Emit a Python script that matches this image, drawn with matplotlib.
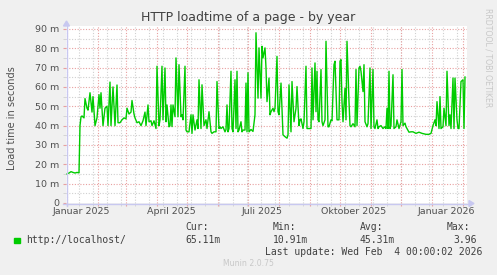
import numpy as np
import matplotlib
matplotlib.use("Agg")
import matplotlib.pyplot as plt
from matplotlib.patches import Rectangle, Polygon

# ---------------- data (day offset from 2025-01-01, load time in ms) -------------
x_px = [67, 69, 71, 73, 75, 77, 79, 80, 81, 82, 84, 85, 87, 88, 90, 92, 93, 95, 97, 99,
        100, 101, 103, 105, 107, 108, 110, 111, 113, 115, 117, 118, 120, 122, 124, 126,
        127, 129, 131, 132, 134, 135, 137, 139, 141, 143, 145,
        146, 148, 149, 151, 152, 154, 156, 157, 159, 160, 162, 163, 165, 166, 167, 169,
        170, 171, 172, 173, 175, 176, 178, 179, 181, 182, 183, 185, 186, 187, 189, 191,
        192, 193, 195, 197, 198, 199, 201, 202, 204, 206, 207, 209, 211, 212, 214, 216,
        217, 219, 220, 221, 223, 225,
        226, 227, 228, 229, 231, 232, 233, 235, 236, 237, 238, 239, 241, 242, 243, 245,
        246, 247, 248, 249, 251, 253, 255, 256, 258, 259, 261, 262, 263, 265, 266, 267,
        269, 270, 271, 273, 274, 275, 277, 278, 279, 281, 282, 283, 285, 287, 288, 289,
        291, 292, 294, 296, 297, 299, 300, 301, 303, 304,
        306, 307, 309, 311, 312, 313, 315, 316, 317, 318, 319, 321, 322, 323, 325, 326,
        328, 329, 331, 332, 334, 335, 337, 339, 340, 341, 342, 343, 345, 346, 347, 349,
        350, 351, 353, 355, 356, 357, 359, 360, 361, 363, 364, 365, 367, 368, 370, 371,
        373, 374, 375, 377, 378, 379, 381, 383, 385,
        386, 387, 388, 389, 390, 391, 393, 394, 396, 397, 399, 401, 402, 403, 405, 406,
        407, 409, 411, 413, 416, 419, 422, 426, 429, 431, 433, 435, 436, 437, 439, 440,
        441, 443, 444, 446, 447, 449, 450, 451, 453, 454, 455, 457, 458, 459, 461, 463,
        464, 465]
days = [p - 67 for p in x_px]

load_ms = [15.0, 15.5, 16.2, 15.8, 15.5, 15.8, 15.6, 40.0, 44.5, 45.0, 44.0, 54.0, 49.0, 48.0,
           57.0, 47.0, 55.0, 40.0, 44.0, 56.0, 49.0, 57.0, 40.0, 49.0, 50.0, 40.0, 62.5, 40.0,
           60.0, 40.0, 61.0, 41.5, 41.5, 43.0, 44.0, 43.5, 49.0, 46.0, 47.0, 53.0, 46.0, 44.0,
           41.5, 42.0, 40.0, 42.5, 47.0,
           40.0, 50.7, 42.0, 42.5, 40.0, 42.5, 38.5, 70.7, 40.0, 43.0, 70.7, 43.0, 69.8, 42.0,
           50.7, 39.4, 40.0, 50.7, 39.5, 50.7, 44.6, 75.0, 44.6, 71.5, 44.6, 45.6, 43.0, 70.7,
           37.7, 36.8, 36.8, 45.6, 36.0, 45.6, 37.7, 43.0, 38.5, 63.7, 38.5, 61.1, 40.0, 43.0,
           38.5, 47.2, 36.8, 36.0, 36.8, 36.8, 62.8, 38.5, 39.4, 38.5, 39.4, 36.8,
           38.0, 50.7, 36.8, 38.5, 68.1, 38.5, 36.8, 63.7, 38.5, 68.1, 36.8, 37.7, 42.0, 36.8,
           37.7, 37.7, 62.0, 36.8, 67.3, 36.8, 38.0, 37.0, 45.6, 88.0, 54.2, 80.2, 54.2, 81.0,
           75.0, 80.2, 69.8, 52.4, 64.6, 45.6, 47.2, 49.0, 47.2, 49.0, 75.8, 47.2, 45.6, 62.0,
           49.0, 35.2, 34.3, 33.5, 35.2, 61.1, 36.8, 62.8, 42.0, 49.0, 60.2, 40.0, 43.0, 43.5,
           38.5, 42.0,
           70.7, 38.5, 38.5, 38.5, 69.8, 43.0, 72.4, 47.2, 68.1, 43.0, 42.0, 69.0, 42.0, 40.0,
           43.0, 83.6, 39.4, 39.4, 43.0, 42.5, 71.5, 73.3, 43.0, 43.0, 73.3, 74.1, 52.4, 42.0,
           59.3, 43.0, 83.6, 52.4, 40.0, 39.4, 41.0, 39.4, 69.0, 40.0, 69.8, 70.7, 68.1, 57.6,
           71.5, 42.0, 39.4, 41.0, 69.8, 38.5, 69.0, 39.4, 38.5, 43.0, 38.5, 39.4, 40.0, 38.5,
           39.4,
           38.5, 49.0, 38.5, 68.1, 38.5, 40.0, 66.3, 38.5, 39.4, 43.0, 38.5, 42.0, 69.0, 40.0,
           41.3, 39.4, 38.5, 36.6, 36.8, 36.8, 36.0, 36.6, 36.0, 35.5, 35.5, 36.0, 40.0, 43.0,
           40.0, 52.4, 38.5, 55.0, 38.5, 39.4, 49.0, 40.0, 68.1, 40.0, 45.6, 38.5, 64.6, 38.5,
           64.6, 43.0, 38.5, 38.5, 62.8, 63.7, 38.5, 65.11]

y_ticks = [0, 10, 20, 30, 40, 50, 60, 70, 80, 90]
y_tick_labels = ["0", "10 m", "20 m", "30 m", "40 m", "50 m", "60 m", "70 m", "80 m", "90 m"]
x_labels = ["Januar 2025", "April 2025", "Juli 2025", "Oktober 2025", "Januar 2026"]
x_label_dates = ["2025-01-15", "2025-04-15", "2025-07-15", "2025-10-15", "2026-01-15"]

title = "HTTP loadtime of a page - by year"
ylabel = "Load time in seconds"
series_name = "http://localhost/"
stat_heads = ["Cur:", "Min:", "Avg:", "Max:"]
stat_vals = ["65.11m", "10.91m", "45.31m", "3.96"]
last_update = "Last update: Wed Feb  4 00:00:02 2026"

# ---------------- figure -----------------
W, H = 497, 275
fig = plt.figure(figsize=(W / 100, H / 100), dpi=100, facecolor="#f0f0f0")

def fx(px):
    return px / W

def fy(py):
    return 1 - py / H

ax_l, ax_r, ax_t, ax_b = 66, 467, 26, 203
ax = fig.add_axes([fx(ax_l), fy(ax_b), (ax_r - ax_l) / W, (ax_b - ax_t) / H])
ax.set_facecolor("white")

base = np.datetime64("2025-01-01")
months = np.arange("2025-01", "2026-03", dtype="datetime64[M]").astype("datetime64[D]")
month_days = (months - base).astype(int)
minor_days = np.arange(12, 400, 14)

ax.set_xlim(-1, 400)
ax.set_ylim(0, 91.5)

# grid
major_c = "#e8a0a0"
minor_c = "#d0d0d0"
for d in minor_days:
    ax.axvline(d, color=minor_c, lw=0.8, ls=(0, (1, 1.5)), zorder=1)
for d in month_days:
    if d <= 400:
        ax.axvline(d, color=major_c, lw=0.8, ls=(0, (1, 1.5)), zorder=2)
for v in np.arange(5, 91, 10):
    ax.axhline(v, color=minor_c, lw=0.8, ls=(0, (1, 1.5)), zorder=1)
for v in y_ticks[1:]:
    ax.axhline(v, color=major_c, lw=0.8, ls=(0, (1, 1.5)), zorder=2)

ax.plot(days, load_ms, color="#00cc00", lw=1.0, zorder=5)

# ticks
for s in ax.spines.values():
    s.set_visible(False)
ax.set_yticks(y_ticks)
ax.set_yticklabels(y_tick_labels)
ax.set_yticks(np.arange(5, 91, 10), minor=True)
ax.set_xticks([d for d in month_days if d <= 400])
ax.set_xticklabels([])
ax.set_xticks(minor_days, minor=True)
ax.tick_params(axis="y", which="major", length=2, color=major_c, labelsize=6.8,
               labelcolor="#505050", pad=3)
ax.tick_params(axis="y", which="minor", length=2, color=minor_c)
ax.tick_params(axis="x", which="major", length=2, color=major_c)
ax.tick_params(axis="x", which="minor", length=2, color=minor_c)

for lab, ds in zip(x_labels, x_label_dates):
    d = (np.datetime64(ds) - base).astype(int)
    ax.text(d, -2.2, lab, ha="center", va="top", fontsize=6.8, color="#505050",
            transform=ax.transData, clip_on=False)

# axis lines with arrows
axis_c = "#c8c8f0"
fig.add_artist(plt.Line2D([fx(66.5), fx(66.5)], [fy(ax_b + 3), fy(26)], color=axis_c, lw=1))
fig.add_artist(plt.Line2D([fx(63), fx(470)], [fy(203.5), fy(203.5)], color=axis_c, lw=1))
fig.add_artist(Polygon([[fx(63.5), fy(26)], [fx(69.5), fy(26)], [fx(66.5), fy(21)]],
                       closed=True, color=axis_c, transform=fig.transFigure))
fig.add_artist(Polygon([[fx(469), fy(200.5)], [fx(469), fy(206.5)], [fx(474), fy(203.5)]],
                       closed=True, color=axis_c, transform=fig.transFigure))

# title / labels
fig.text(fx(248.5), fy(18), title, ha="center", va="center", fontsize=9, color="#404040")
fig.text(fx(12), fy(118), ylabel, ha="center", va="center", rotation=90, fontsize=7,
         color="#505050")
fig.text(fx(488), fy(8), "RRDTOOL / TOBI OETIKER", ha="center", va="top", rotation=270,
         fontsize=5.6, color="#c8c8c8")

# legend
mono = "DejaVu Sans Mono"
fig.add_artist(Rectangle((fx(14), fy(243)), 5.5 / W, 5.5 / H, color="#00cc00",
                         transform=fig.transFigure))
fig.text(fx(26.5), fy(240), series_name, ha="left", va="center", fontsize=7,
         family=mono, color="#404040")
head_x = [185, 272.5, 359.5, 470]
val_x = [185, 272.5, 359.5, 477]
for i, (hd, vl) in enumerate(zip(stat_heads, stat_vals)):
    ha = "right" if i == 3 else "left"
    fig.text(fx(head_x[i]), fy(227.5), hd, ha=ha, va="center", fontsize=7,
             family=mono, color="#404040")
    fig.text(fx(val_x[i]), fy(240), vl, ha=ha, va="center", fontsize=7,
             family=mono, color="#404040")
fig.text(fx(482), fy(252), last_update, ha="right", va="center", fontsize=7,
         family=mono, color="#404040")
fig.text(fx(248), fy(264), "Munin 2.0.75", ha="center", va="center", fontsize=5.6,
         color="#c8c8c8")

fig.savefig("out.png", dpi=100, facecolor=fig.get_facecolor())
